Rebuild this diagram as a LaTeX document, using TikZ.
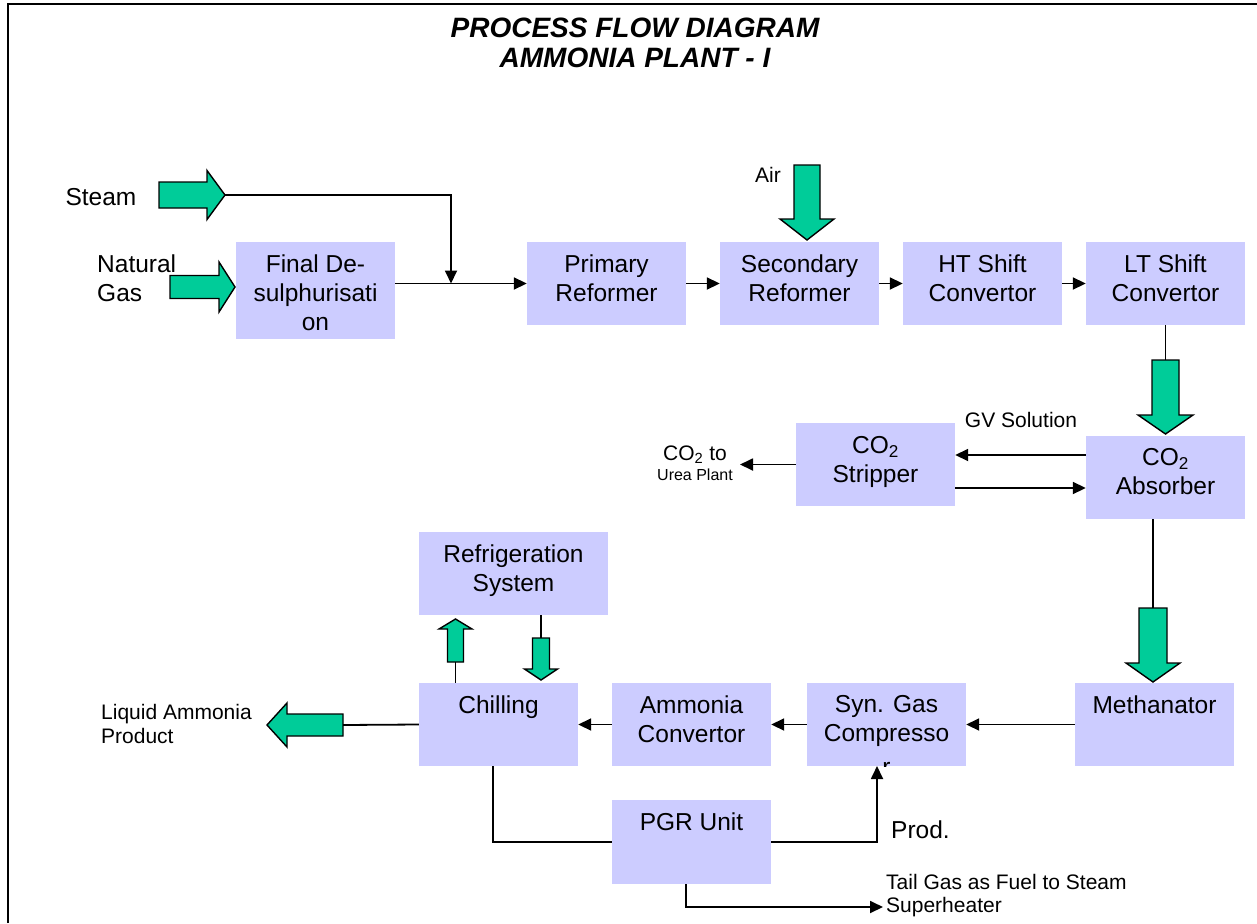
\documentclass[tikz,border=0pt]{standalone}
\usepackage{fontspec}
\setmainfont{Liberation Sans}
\usetikzlibrary{arrows.meta}
\definecolor{boxc}{HTML}{CCCCFF}
\definecolor{flowg}{HTML}{00CC99}
\newcommand\bigf{\fontsize{24.5}{29}\selectfont}
\newcommand\smallf{\fontsize{21}{24}\selectfont}
\newcommand\tailf{\fontsize{21}{23}\selectfont}
\newcommand\tinyf{\fontsize{16}{18}\selectfont}
\newcommand\titlef{\fontsize{28}{30}\selectfont\bfseries\itshape}
% cy, xstart, xheadbase, xtip, shaft half width, head half width
\newcommand\flowarrowH[6]{\filldraw[barrow] (#2,#1-#5) -- (#3,#1-#5) -- (#3,#1-#6) -- (#4,#1) -- (#3,#1+#6) -- (#3,#1+#5) -- (#2,#1+#5) -- cycle;}
% cx, ystart, yheadbase, ytip, shaft half width, head half width
\newcommand\flowarrowD[6]{\filldraw[barrow] (#1-#5,#2) -- (#1+#5,#2) -- (#1+#5,#3) -- (#1+#6,#3) -- (#1,#4) -- (#1-#6,#3) -- (#1-#5,#3) -- cycle;}
\begin{document}
\begin{tikzpicture}[x=1pt,y=-1pt,
 box/.style={fill=boxc,draw=none,inner sep=0pt,minimum width=159pt,minimum height=83pt},
 btxt/.style={anchor=north,align=center,font=\bigf,inner xsep=0pt,inner ysep=12.5pt},
 lbl/.style={font=\smallf,inner sep=0pt},
 flow/.style={line width=1.8pt,-{Triangle[length=13pt,width=12pt]}},
 plain/.style={line width=1.8pt},
 barrow/.style={fill=flowg,draw=black,line width=1.4pt,line join=miter}]
\useasboundingbox (0,0) rectangle (1257,923);
\fill[white] (0,0) rectangle (1257,923);
\draw[line width=2.5pt] (8,923) -- (8,4) -- (1257,4);

\node[font=\titlef,align=center,inner sep=0pt] (title) at (635,43) {PROCESS FLOW DIAGRAM\\AMMONIA PLANT - I};

% boxes
\node[box,minimum height=97pt] (des) at (315.5,290.5) {};
\node[box] (prim) at (606.5,283.5) {};
\node[box] (sec) at (799.5,283.5) {};
\node[box] (ht) at (982.5,283.5) {};
\node[box] (lt) at (1165.5,283.5) {};
\node[box] (abs) at (1165.5,477.5) {};
\node[box] (str) at (875.5,464.5) {};
\node[box,minimum width=189pt] (ref) at (513.5,573.5) {};
\node[box] (chill) at (498.5,724.5) {};
\node[box] (amm) at (691.5,724.5) {};
\node[box] (syn) at (886.5,724.5) {};
\node[box] (meth) at (1154.5,724.5) {};
\node[box,minimum height=84pt] (pgr) at (691.5,842) {};

% box texts
\node[btxt] (des-t) at (des.north) {Final De-\\sulphurisati\\on};
\node[btxt] (prim-t) at (prim.north) {Primary\\Reformer};
\node[btxt] (sec-t) at (sec.north) {Secondary\\Reformer};
\node[btxt] (ht-t) at (ht.north) {HT Shift\\Convertor};
\node[btxt] (lt-t) at (lt.north) {LT Shift\\Convertor};
\node[btxt] (abs-t) at (abs.north) {CO\textsubscript{2}\\Absorber};
\node[btxt,inner ysep=13.5pt] (str-t) at (str.north) {CO\textsubscript{2}\\Stripper};
\node[btxt] (ref-t) at (ref.north) {Refrigeration\\System};
\node[btxt] (chill-t) at (chill.north) {Chilling};
\node[btxt] (amm-t) at (amm.north) {Ammonia\\Convertor};
\begin{scope}
\clip (syn.north west) rectangle (syn.south east);
\node[btxt] (syn-t) at (syn.north) {Syn. Gas\\Compresso\\[5pt]r};
\end{scope}
\node[btxt] (meth-t) at (meth.north) {Methanator};
\node[btxt] (pgr-t) at (pgr.north) {PGR Unit};

% labels
\node[font=\bigf,inner sep=0pt] (steam) at (101,197) {Steam};
\node[font=\bigf,align=left,anchor=west,inner sep=0pt] (ng) at (97,278) {Natural\\Gas};
\node[lbl] (air) at (768,175) {Air};
\node[lbl] (gv) at (1021,420) {GV Solution};
\node[lbl] (co2to) at (695,455) {CO\textsubscript{2} to};
\node[font=\tinyf,inner sep=0pt] (urea) at (695,475) {Urea Plant};
\node[font=\smallf,align=left,anchor=west,inner sep=0pt] (liq) at (101,724) {Liquid Ammonia\\Product};
\node[font=\bigf,anchor=west,inner sep=0pt] (prod) at (891,830) {Prod.};
\node[font=\tailf,align=left,anchor=west,inner sep=0pt] (tail) at (886,896) {Tail Gas as Fuel to Steam\\Superheater};

% block arrows
\flowarrowH{195}{159}{207}{225}{13}{24.5}
\flowarrowH{287}{170}{219}{235}{11.5}{25}
\flowarrowH{725}{343}{287}{267}{11}{22}
\flowarrowD{807}{165}{219}{240}{13}{27}
\flowarrowD{1165.5}{360}{415}{434}{13.5}{27.5}
\flowarrowD{1153}{608}{663}{682}{14}{27}
\flowarrowD{455.5}{662}{629}{619}{8}{16.5}
\flowarrowD{541}{638}{669}{680}{8.5}{16.5}

% helper coordinates
\coordinate (steamtip) at (225,195);
\coordinate (jn) at (451,283.5);
\coordinate (ltarr) at (1165.5,360);
\coordinate (metharr) at (1153,608);
\coordinate (uparr) at (455.5,662);
\coordinate (dnarr) at (541,638);
\coordinate (liqarr) at (343,725);
\coordinate (gvy) at (0,455);
\coordinate (rety) at (0,488);
\coordinate (co2x) at (740,0);
\coordinate (chx) at (493,0);
\coordinate (prodin) at (877,766);
\coordinate (tgx) at (686,0);
\coordinate (tgend) at (883,907);

% connectors
\draw[flow] (steamtip) -| (jn);
\draw[flow] (prim.west -| des.east) -- (prim.west);
\draw[flow] (prim.east) -- (sec.west);
\draw[flow] (sec.east) -- (ht.west);
\draw[flow] (ht.east) -- (lt.west);
\draw[plain] (lt.south) -- (ltarr);
\draw[flow] (abs.west |- gvy) -- (str.east |- gvy);
\draw[flow] (str.east |- rety) -- (abs.west |- rety);
\draw[flow] (str.west) -- (str.west -| co2x);
\draw[plain] (abs.south -| metharr) -- (metharr);
\draw[flow] (meth.west) -- (syn.east);
\draw[flow] (syn.west) -- (amm.east);
\draw[flow] (amm.west) -- (chill.east);
\draw[plain] (chill.west) -- (liqarr);
\draw[plain] (chill.north -| uparr) -- (uparr);
\draw[plain] (ref.south -| dnarr) -- (dnarr);
\draw[plain] (chill.south -| chx) |- (pgr.west);
\draw[flow] (pgr.east) -| (prodin);
\draw[flow] (pgr.south -| tgx) |- (tgend);
\end{tikzpicture}
\end{document}
